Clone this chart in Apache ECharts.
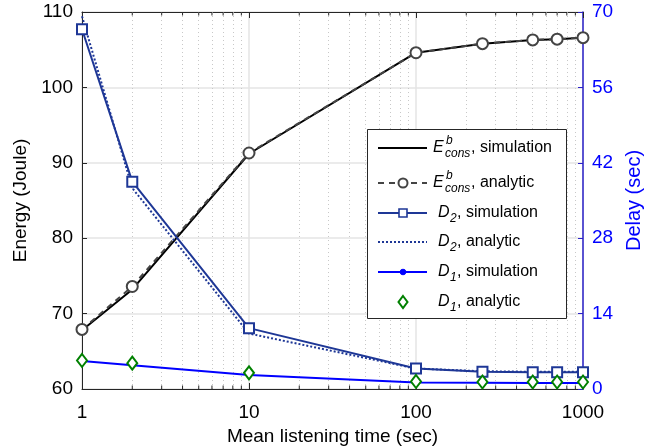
<!DOCTYPE html>
<html><head><meta charset="utf-8">
<script src="https://cdn.jsdelivr.net/npm/echarts@6/dist/echarts.min.js"></script>
<style>html,body{margin:0;padding:0;background:#fff}#c{width:665px;height:447px}</style>
</head><body><div id="c"></div>
<script>
const xValues = [1, 2, 10, 100, 250, 500, 700, 1000];
const energySim = [67.8, 73.2, 91.2, 104.6, 105.8, 106.3, 106.4, 106.6];
const energyAna = [67.9, 73.6, 91.3, 104.6, 105.8, 106.3, 106.4, 106.6];
const d2Sim = [66.8, 38.5, 11.3, 3.8, 3.2, 3.1, 3.1, 3.1];
const d2Ana = [69.2, 37.3, 10.3, 3.8, 3.3, 3.2, 3.2, 3.2];
const d1Sim = [5.2, 4.4, 2.6, 1.2, 1.15, 1.1, 1.1, 1.1];
const d1Ana = [5.3, 4.8, 3.0, 1.4, 1.3, 1.3, 1.3, 1.3];
const minorX = [2,3,4,5,6,7,8,9,20,30,40,50,60,70,80,90,200,300,400,500,600,700,800,900];
const energyTicks = {min: 60, max: 110, interval: 10};
const delayTicks = {min: 0, max: 70, interval: 14};

const FONT = 'Liberation Sans, Arial, sans-serif';
const AX = '#262626';
const D2C = '#1e3796';
const D1C = '#0000ff';
const GR = '#008000';
const EG = '#444444';

const pairs = ys => xValues.map((x, i) => [x, ys[i]]);

const chart = echarts.init(document.getElementById('c'), null, {renderer: 'canvas'});

// legend graphic
const rows = [148, 183, 213, 242, 272, 302];
const L1 = 378, L2 = 427, MX = 403;
const g = [];
g.push({type: 'rect', shape: {x: 367.5, y: 129.5, width: 199, height: 189}, style: {fill: '#fff', stroke: AX, lineWidth: 1}, z: 100});
function line(y, color, dash, w) {
  g.push({type: 'line', shape: {x1: L1, y1: y, x2: L2, y2: y}, style: {stroke: color, lineWidth: w, lineDash: dash}, z: 101});
}
function txt(x, y, t, size, italic, color) {
  g.push({type: 'text', x: x, y: y, style: {text: t, fontSize: size, fontFamily: FONT, fontStyle: italic ? 'italic' : 'normal', fill: color || '#000', verticalAlign: 'middle', align: 'left'}, z: 102});
}
line(rows[0], '#000', null, 2);
line(rows[1], EG, [6, 5], 2);
g.push({type: 'circle', shape: {cx: MX, cy: rows[1], r: 4.5}, style: {fill: '#fff', stroke: EG, lineWidth: 2}, z: 102});
line(rows[2], D2C, null, 2);
g.push({type: 'rect', shape: {x: MX - 4, y: rows[2] - 4, width: 8, height: 8}, style: {fill: '#fff', stroke: D2C, lineWidth: 1.6}, z: 102});
line(rows[3], D2C, [2, 2], 2);
line(rows[4], D1C, null, 2);
g.push({type: 'circle', shape: {cx: MX, cy: rows[4], r: 2.8}, style: {fill: D1C, stroke: D1C, lineWidth: 1}, z: 102});
g.push({type: 'polygon', shape: {points: [[MX, rows[5] - 6], [MX + 4.5, rows[5]], [MX, rows[5] + 6], [MX - 4.5, rows[5]]]}, style: {fill: '#fff', stroke: GR, lineWidth: 2}, z: 102});
const eLabels = [', simulation', ', analytic'];
for (let i = 0; i < 2; i++) {
  const y = rows[i];
  txt(433, y, 'E', 16, true);
  txt(446, y - 7, 'b', 12, true);
  txt(445, y + 6, 'cons', 12, true);
  txt(471, y, eLabels[i], 16, false);
}
const dLabels = [['2', ', simulation'], ['2', ', analytic'], ['1', ', simulation'], ['1', ', analytic']];
for (let i = 0; i < 4; i++) {
  const y = rows[i + 2];
  txt(438, y, 'D', 16, true);
  txt(450, y + 6, dLabels[i][0], 12, true);
  txt(457, y, dLabels[i][1], 16, false);
}

const option = {
  animation: false,
  backgroundColor: '#fff',
  grid: {left: 82, right: 82, top: 12, bottom: 58, containLabel: false, outerBoundsMode: 'none'},
  xAxis: [{
    type: 'log', logBase: 10, min: 1, max: 1000,
    name: 'Mean listening time (sec)', nameLocation: 'middle', nameGap: 30,
    nameTextStyle: {fontSize: 19, fontFamily: FONT, color: '#000'},
    axisLine: {show: true, onZero: false, lineStyle: {color: AX, width: 1}},
    axisTick: {show: true, inside: true, length: 6, lineStyle: {color: AX}},
    axisLabel: {fontSize: 19, fontFamily: FONT, color: '#000', margin: 14, formatter: v => String(Math.round(v))},
    splitLine: {show: true, lineStyle: {color: '#e4e4e4', width: 1.5}},
    minorTick: {show: false}, minorSplitLine: {show: false}
  }, {
    type: 'log', logBase: 10, min: 1, max: 1000, position: 'top',
    axisLine: {show: true, onZero: false, lineStyle: {color: AX, width: 1}},
    axisTick: {show: true, inside: true, length: 6, lineStyle: {color: AX}},
    axisLabel: {show: false}, splitLine: {show: false}
  }],
  yAxis: [{
    type: 'value', min: energyTicks.min, max: energyTicks.max, interval: energyTicks.interval,
    name: 'Energy (Joule)', nameLocation: 'middle', nameGap: 42, nameRotate: 90,
    nameTextStyle: {fontSize: 19, fontFamily: FONT, color: '#000'},
    axisLine: {show: true, onZero: false, lineStyle: {color: AX, width: 1}},
    axisTick: {show: true, inside: true, length: 5, lineStyle: {color: AX}},
    axisLabel: {fontSize: 19, fontFamily: FONT, color: '#000', margin: 9},
    splitLine: {show: true, lineStyle: {color: '#e4e4e4', width: 1.5}}
  }, {
    type: 'value', min: delayTicks.min, max: delayTicks.max, interval: delayTicks.interval, position: 'right',
    name: 'Delay (sec)', nameLocation: 'middle', nameGap: 40, nameRotate: 90,
    nameTextStyle: {fontSize: 20, fontFamily: FONT, color: '#0000ff'},
    axisLine: {show: true, onZero: false, lineStyle: {color: '#2a20c8', width: 1.5}},
    axisTick: {show: true, inside: true, length: 5, lineStyle: {color: '#2a20c8'}},
    axisLabel: {fontSize: 19, fontFamily: FONT, color: '#0000ff', margin: 9},
    splitLine: {show: false}
  }],
  graphic: g,
  series: [
    {
      type: 'scatter', xAxisIndex: 0, yAxisIndex: 0, z: 1, silent: true,
      data: minorX.map(x => [x, energyTicks.min]),
      symbol: 'rect', symbolSize: [1, 3.5], symbolOffset: [0, -1.75],
      itemStyle: {color: AX, opacity: 1},
      markLine: {
        silent: true, symbol: ['none', 'none'], label: {show: false}, z: 1,
        lineStyle: {color: '#c8c8c8', type: [1, 3], width: 1},
        emphasis: {disabled: true},
        data: minorX.map(x => ({xAxis: x}))
      }
    },
    {
      type: 'scatter', xAxisIndex: 0, yAxisIndex: 0, z: 1, silent: true,
      data: minorX.map(x => [x, energyTicks.max]),
      symbol: 'rect', symbolSize: [1, 3.5], symbolOffset: [0, 1.75],
      itemStyle: {color: AX, opacity: 1}
    },
    {
      name: 'E sim', type: 'line', xAxisIndex: 0, yAxisIndex: 0, z: 3,
      data: pairs(energySim), showSymbol: false, symbol: 'none',
      lineStyle: {color: '#000', width: 2}
    },
    {
      name: 'E ana', type: 'line', xAxisIndex: 0, yAxisIndex: 0, z: 4,
      data: pairs(energyAna), symbol: 'emptyCircle', symbolSize: 11,
      lineStyle: {color: EG, width: 2, type: [6, 5]},
      itemStyle: {color: EG, borderColor: EG, borderWidth: 2}
    },
    {
      name: 'D2 sim', type: 'line', xAxisIndex: 0, yAxisIndex: 1, z: 4,
      data: pairs(d2Sim), symbol: 'emptyRect', symbolSize: 10,
      lineStyle: {color: D2C, width: 2},
      itemStyle: {color: D2C, borderColor: D2C, borderWidth: 1.8}
    },
    {
      name: 'D2 ana', type: 'line', xAxisIndex: 0, yAxisIndex: 1, z: 3,
      data: pairs(d2Ana), symbol: 'none',
      lineStyle: {color: D2C, width: 2, type: [2, 2]}
    },
    {
      name: 'D1 sim', type: 'line', xAxisIndex: 0, yAxisIndex: 1, z: 4,
      data: pairs(d1Sim), symbol: 'circle', symbolSize: 6,
      lineStyle: {color: D1C, width: 2},
      itemStyle: {color: D1C}
    },
    {
      name: 'D1 ana', type: 'scatter', xAxisIndex: 0, yAxisIndex: 1, z: 5,
      data: pairs(d1Ana), symbol: 'emptyDiamond', symbolSize: [10, 13],
      itemStyle: {color: GR, borderColor: GR, borderWidth: 2, opacity: 1}
    }
  ]
};
chart.setOption(option);
</script>
</body></html>
